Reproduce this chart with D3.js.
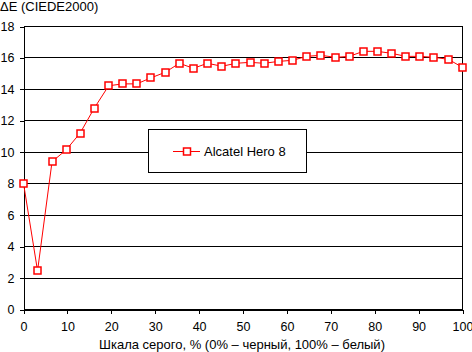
<!DOCTYPE html>
<html><head><meta charset="utf-8">
<script src="https://cdn.jsdelivr.net/npm/d3@7/dist/d3.min.js"></script>
<style>
html,body{margin:0;padding:0;background:#fff;}
text{font-family:"Liberation Sans",Arial,sans-serif;font-size:13px;fill:#000;}
</style></head>
<body>
<svg id="c" width="472" height="352"></svg>
<script>
const grayLevels = [0, 3.2, 6.5, 9.7, 12.9, 16.1, 19.4, 22.6, 25.8, 29.0, 32.3, 35.5, 38.7, 41.9, 45.2, 48.4,
  51.6, 54.8, 58.1, 61.3, 64.5, 67.7, 71.0, 74.2, 77.4, 80.6, 83.9, 87.1, 90.3, 93.5, 96.8, 100];
const deltaE = [8.03, 2.46, 9.4, 10.15, 11.22, 12.8, 14.23, 14.35, 14.35, 14.73, 15.09, 15.66, 15.34, 15.66, 15.47, 15.66,
  15.72, 15.66, 15.78, 15.85, 16.1, 16.17, 16.04, 16.1, 16.42, 16.42, 16.29, 16.1, 16.1, 16.04, 15.91, 15.4];
const seriesName = "Alcatel Hero 8";
const xTicks = [0, 10, 20, 30, 40, 50, 60, 70, 80, 90, 100];
const yTicks = [0, 2, 4, 6, 8, 10, 12, 14, 16, 18];
const yTitle = "\u0394E (CIEDE2000)";
const xTitle = "Шкала серого, % (0% – черный, 100% – белый)";

const svg = d3.select("#c");
const x = d3.scaleLinear().domain([0, 100]).range([23.5, 462.5]);
const y = d3.scaleLinear().domain([0, 18]).range([309.5, 26.5]);

// gridlines
svg.append("g").selectAll("line").data(yTicks).join("line")
  .attr("x1", x(0)).attr("x2", x(100))
  .attr("y1", d => y(d)).attr("y2", d => y(d))
  .attr("stroke", "#000").attr("stroke-width", 1).attr("shape-rendering", "crispEdges");
// right border
svg.append("line").attr("x1", x(100)).attr("x2", x(100)).attr("y1", y(18)).attr("y2", y(0))
  .attr("stroke", "#000").attr("shape-rendering", "crispEdges");

// y axis
const yAxis = svg.append("g").attr("transform", `translate(${x(0)},0)`)
  .call(d3.axisLeft(y).tickValues(yTicks).tickSize(4).tickPadding(5).tickFormat(d3.format("d")));
// x axis
const xAxis = svg.append("g").attr("transform", `translate(0,${y(0)})`)
  .call(d3.axisBottom(x).tickValues(xTicks).tickSize(4).tickPadding(9).tickFormat(d3.format("d")));
[yAxis, xAxis].forEach(g => {
  g.selectAll("path.domain").attr("stroke", "#000").attr("shape-rendering", "crispEdges");
  g.selectAll(".tick line").attr("stroke", "#000").attr("shape-rendering", "crispEdges");
  g.selectAll("text").attr("fill", "#000").style("font-size", "12.5px")
    .style("font-family", '"Liberation Sans",Arial,sans-serif');
});

// titles
svg.append("text").attr("x", 0).attr("y", 11).text(yTitle);
svg.append("text").attr("x", 242).attr("y", 349).attr("text-anchor", "middle").text(xTitle);

// series
const pts = grayLevels.map((g, i) => [g, deltaE[i]]);
svg.append("path").datum(pts)
  .attr("d", d3.line().x(d => x(d[0])).y(d => y(d[1])))
  .attr("fill", "none").attr("stroke", "#ff0000").attr("stroke-width", 1);
const ms = 7;
svg.append("g").selectAll("rect").data(pts).join("rect")
  .attr("x", d => Math.round(x(d[0]) - ms / 2) ).attr("y", d => Math.round(y(d[1]) - ms / 2))
  .attr("width", ms).attr("height", ms)
  .attr("fill", "#fff").attr("stroke", "#ff0000").attr("stroke-width", 1.5);

// legend
const lg = svg.append("g");
lg.append("rect").attr("x", 148.5).attr("y", 129.5).attr("width", 158).attr("height", 43)
  .attr("fill", "#fff").attr("stroke", "#000").attr("shape-rendering", "crispEdges");
lg.append("line").attr("x1", 173).attr("x2", 200).attr("y1", 151.5).attr("y2", 151.5)
  .attr("stroke", "#ff0000").attr("stroke-width", 1);
lg.append("rect").attr("x", 183.5).attr("y", 148).attr("width", ms).attr("height", ms)
  .attr("fill", "#fff").attr("stroke", "#ff0000").attr("stroke-width", 1.5);
lg.append("text").attr("x", 204).attr("y", 156).text(seriesName);
</script>
</body></html>
